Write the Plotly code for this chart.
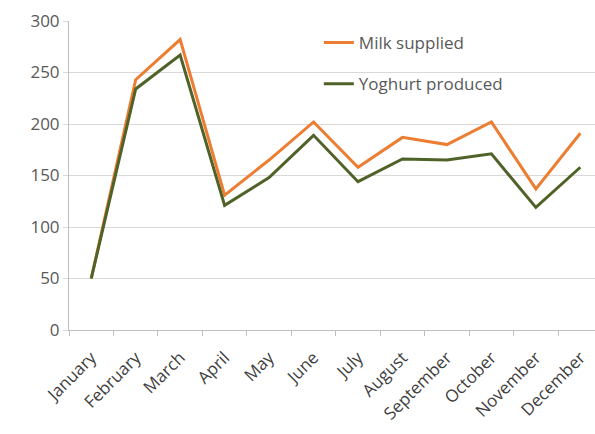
import plotly.graph_objects as go

months = ["January", "February", "March", "April", "May", "June", "July",
          "August", "September", "October", "November", "December"]
milk_supplied = [50, 243, 282, 131, 165, 202, 158, 187, 180, 202, 137, 191]
yoghurt_produced = [50, 234, 267, 121, 148, 189, 144, 166, 165, 171, 119, 158]
y_ticks = [0, 50, 100, 150, 200, 250, 300]

FONT = "Open Sans"
TXT = "#595959"

fig = go.Figure()
fig.add_trace(go.Scatter(x=months, y=milk_supplied, mode="lines", name="Milk supplied",
                         legendgroup="a",
                         line=dict(color="#ED7D31", width=3)))
fig.add_trace(go.Scatter(x=months, y=yoghurt_produced, mode="lines", name="Yoghurt produced",
                         legendgroup="b",
                         line=dict(color="#4F6228", width=3)))

fig.update_layout(
    width=595, height=434,
    margin=dict(l=69, r=0, t=21, b=104),
    paper_bgcolor="white", plot_bgcolor="white",
    font=dict(family=FONT, size=16, color=TXT),
    showlegend=True,
    legend=dict(x=0.475, y=0.987, xanchor="left", yanchor="top",
                bgcolor="rgba(0,0,0,0)", tracegroupgap=16,
                font=dict(family=FONT, size=17, color=TXT)),
)
fig.update_xaxes(
    type="category", range=[-0.5, 11.33],
    showgrid=False, showline=True, linecolor="#BFBFBF", linewidth=1,
    ticks="outside", tickson="boundaries", ticklen=5, tickcolor="#BFBFBF",
    tickangle=-45, ticklabelstandoff=10,
    tickfont=dict(family=FONT, size=17, color="#404040"),
)
fig.update_yaxes(
    range=[0, 300], tickvals=y_ticks,
    showgrid=True, gridcolor="#D9D9D9", gridwidth=1,
    showline=True, linecolor="#BFBFBF", linewidth=1,
    ticks="outside", ticklen=5, tickcolor="#D9D9D9",
    zeroline=False,
    tickfont=dict(family=FONT, size=17, color=TXT),
)

fig.write_html("out.html")
